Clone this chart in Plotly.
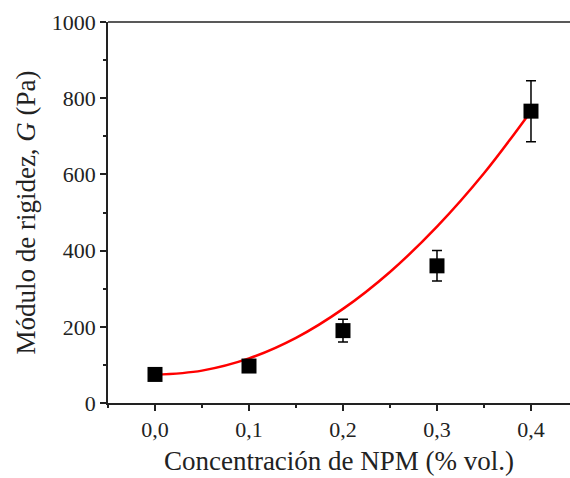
import plotly.graph_objects as go

# Data
conc = [0.0, 0.1, 0.2, 0.3, 0.4]
G = [75, 97, 190, 360, 766]
G_err = [0, 0, 30, 40, 80]

fit_x = [0.0, 0.05, 0.1, 0.15, 0.2, 0.25, 0.3, 0.35, 0.4]
fit_y = [74, 85, 117, 171, 247, 344, 463, 603, 766]

x_ticks = [0.0, 0.1, 0.2, 0.3, 0.4]
x_labels = ["0,0", "0,1", "0,2", "0,3", "0,4"]
y_ticks = [0, 200, 400, 600, 800, 1000]

font = "Liberation Serif"

fig = go.Figure()
fig.add_trace(go.Scatter(
    x=fit_x, y=fit_y, mode="lines",
    line=dict(color="#ff0000", width=2.5, shape="spline"),
    hoverinfo="skip", showlegend=False,
))
fig.add_trace(go.Scatter(
    x=conc, y=G, mode="markers",
    marker=dict(symbol="square", size=15, color="black"),
    error_y=dict(type="data", array=G_err, visible=True, color="black",
                 thickness=1.5, width=5),
    showlegend=False, cliponaxis=False,
))

axis_common = dict(
    showgrid=False, zeroline=False, showline=True, linecolor="#222",
    linewidth=1.5, ticks="outside", ticklen=6, tickwidth=1.5, tickcolor="#222",
    tickfont=dict(family=font, size=22, color="#222"),
)

fig.update_layout(
    width=570, height=478,
    margin=dict(l=108, r=0, t=22, b=75),
    plot_bgcolor="white", paper_bgcolor="white",
    font=dict(family=font, color="#222"),
    xaxis=dict(
        range=[-0.05, 0.4415], tickvals=x_ticks, ticktext=x_labels,
        mirror=False,
        minor=dict(dtick=0.05, tick0=0, ticks="outside", ticklen=3, tickwidth=1.5, tickcolor="#222"),
        title=dict(text="Concentración de NPM (% vol.)", font=dict(family=font, size=27, color="#222"), standoff=10),
        **axis_common,
    ),
    yaxis=dict(
        range=[0, 1000], tickvals=y_ticks,
        minor=dict(dtick=100, tick0=0, ticks="outside", ticklen=3, tickwidth=1.5, tickcolor="#222"),
        title=dict(text="Módulo de rigidez, <i>G</i> (Pa)", font=dict(family=font, size=27, color="#222"), standoff=8),
        **axis_common,
    ),
)
# top border line
fig.add_shape(type="line", xref="paper", yref="paper", x0=0, x1=1, y0=1, y1=1,
              line=dict(color="#222", width=1.5))

fig.write_html("out.html")
